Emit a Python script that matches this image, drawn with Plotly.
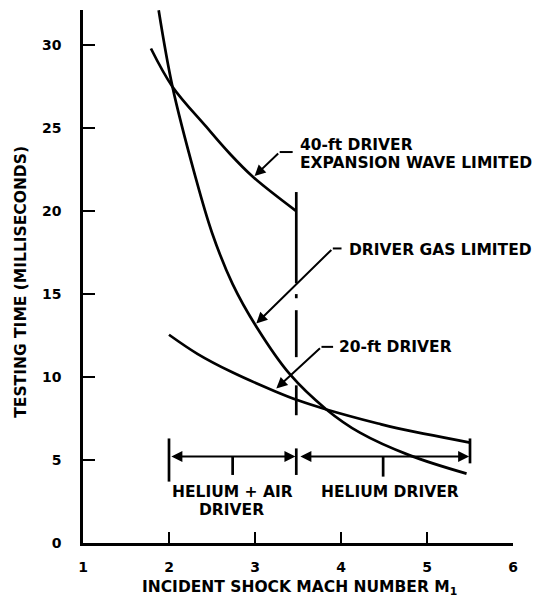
import plotly.graph_objects as go

# ---- data ----
gas_limited_M = [1.88, 2.04, 2.30, 2.50, 2.74, 3.02, 3.40, 3.83, 4.22, 4.80, 5.46]
gas_limited_T = [32.1, 27.5, 22.2, 18.7, 15.6, 13.0, 10.2, 8.05, 6.65, 5.28, 4.18]

expansion40_M = [1.79, 2.04, 2.43, 2.70, 2.975, 3.48]
expansion40_T = [29.8, 27.5, 25.1, 23.5, 22.07, 20.0]

driver20_M = [2.0, 2.33, 2.73, 3.23, 3.50, 3.83, 4.43, 4.65, 5.5]
driver20_T = [12.55, 11.4, 10.3, 9.15, 8.6, 8.05, 7.2, 6.92, 6.05]

x_ticks = [1, 2, 3, 4, 5, 6]
y_ticks = [0, 5, 10, 15, 20, 25, 30]

m_limit = 3.48          # helium+air / helium boundary
range_T = 5.22          # level of the range arrows
range_start, range_end = 2.0, 5.5

FONT = "DejaVu Sans"
LW = 2.7

fig = go.Figure()

def curve(xs, ys, shape="spline"):
    fig.add_trace(go.Scatter(x=xs, y=ys, mode="lines", showlegend=False,
                             line=dict(color="black", width=LW, shape=shape, smoothing=1.0),
                             hoverinfo="skip", cliponaxis=True))

curve(gas_limited_M, gas_limited_T)
curve(expansion40_M, expansion40_T)
curve(driver20_M, driver20_T)

# vertical boundary line (dash-dot segments)
curve([m_limit, m_limit, None, m_limit, m_limit, None, m_limit, m_limit, None, m_limit, m_limit],
      [21.15, 15.65, None, 15.0, 14.75, None, 14.03, 11.2, None, 9.5, 7.7], shape="linear")

# range bars
curve([range_start, range_start], [3.7, 6.3], shape="linear")
curve([m_limit, m_limit], [4.1, 5.7], shape="linear")
curve([range_end, range_end], [4.8, 6.3], shape="linear")
# mid marks
mid1 = (range_start + m_limit) / 2
mid2 = (m_limit + range_end) / 2
curve([mid1, mid1], [range_T, 4.1], shape="linear")
curve([mid2, mid2], [range_T, 4.0], shape="linear")

annotations = []

def darrow(x0, x1, y):
    annotations.append(dict(x=x1, y=y, ax=x0, ay=y, xref="x", yref="y", axref="x", ayref="y",
                            text="", showarrow=True, arrowhead=2, startarrowhead=2,
                            arrowside="end+start", arrowsize=1.1, startarrowsize=1.1,
                            arrowwidth=2, arrowcolor="black"))

darrow(range_start + 0.01, m_limit - 0.01, range_T)
darrow(m_limit + 0.03, range_end - 0.01, range_T)

def leader(tip, corner, stub_end):
    fig.add_shape(type="line", x0=corner[0], y0=corner[1], x1=stub_end[0], y1=stub_end[1],
                  xref="x", yref="y", line=dict(color="black", width=2))
    annotations.append(dict(x=tip[0], y=tip[1], ax=corner[0], ay=corner[1], xref="x", yref="y",
                            axref="x", ayref="y", text="", showarrow=True, arrowhead=2,
                            arrowsize=1.1, arrowwidth=2, arrowcolor="black"))

leader((2.995, 22.11), (3.287, 23.56), (3.438, 23.56))
leader((3.015, 13.23), (3.905, 17.75), (4.006, 17.75))
leader((3.248, 9.31), (3.773, 11.82), (3.908, 11.82))

def label(x, y, text, anchor="left", size=15.5):
    annotations.append(dict(x=x, y=y, xref="x", yref="y", text=text, showarrow=False,
                            xanchor=anchor, yanchor="middle", borderpad=0,
                            font=dict(family=FONT, size=size, color="black", weight="bold")))

label(3.508, 24.0, "40-ft DRIVER")
label(3.508, 22.92, "EXPANSION WAVE LIMITED")
label(4.079, 17.65, "DRIVER GAS LIMITED")
label(3.966, 11.82, "20-ft DRIVER")
label(2.739, 3.05, "HELIUM + AIR", "center")
label(2.73, 1.98, "DRIVER", "center")
label(4.569, 3.05, "HELIUM DRIVER", "center")

# axis titles
annotations.append(dict(x=3.52, y=-0.0852, xref="x", yref="paper",
                        text="INCIDENT SHOCK MACH NUMBER M<sub>1</sub>", showarrow=False,
                        xanchor="center", yanchor="middle",
                        font=dict(family=FONT, size=15.5, color="black", weight="bold")))
annotations.append(dict(x=-0.144, y=15.75, xref="paper", yref="y",
                        text="TESTING TIME (MILLISECONDS)", showarrow=False, textangle=-90,
                        xanchor="center", yanchor="middle",
                        font=dict(family=FONT, size=15.5, color="black", weight="bold")))

fig.update_layout(
    width=538, height=610,
    margin=dict(l=83, r=25, t=10, b=67),
    paper_bgcolor="white", plot_bgcolor="white",
    font=dict(family=FONT, color="black"),
    annotations=annotations,
    showlegend=False,
)
fig.update_xaxes(range=[1, 6], tickvals=x_ticks, ticktext=[str(v) for v in x_ticks],
                 ticks="inside", ticklen=11, tickwidth=2, tickcolor="black",
                 showline=True, linewidth=2.5, linecolor="black",
                 showgrid=False, zeroline=False, ticklabelstandoff=9,
                 tickfont=dict(family=FONT, size=14, color="black", weight="bold"))
fig.update_yaxes(range=[0, 32.12], tickvals=y_ticks, ticktext=[str(v) for v in y_ticks],
                 ticks="inside", ticklen=12, tickwidth=2, tickcolor="black",
                 showline=True, linewidth=2.5, linecolor="black",
                 showgrid=False, zeroline=False, ticklabelstandoff=16,
                 tickfont=dict(family=FONT, size=14, color="black", weight="bold"))

fig.write_html("out.html")
